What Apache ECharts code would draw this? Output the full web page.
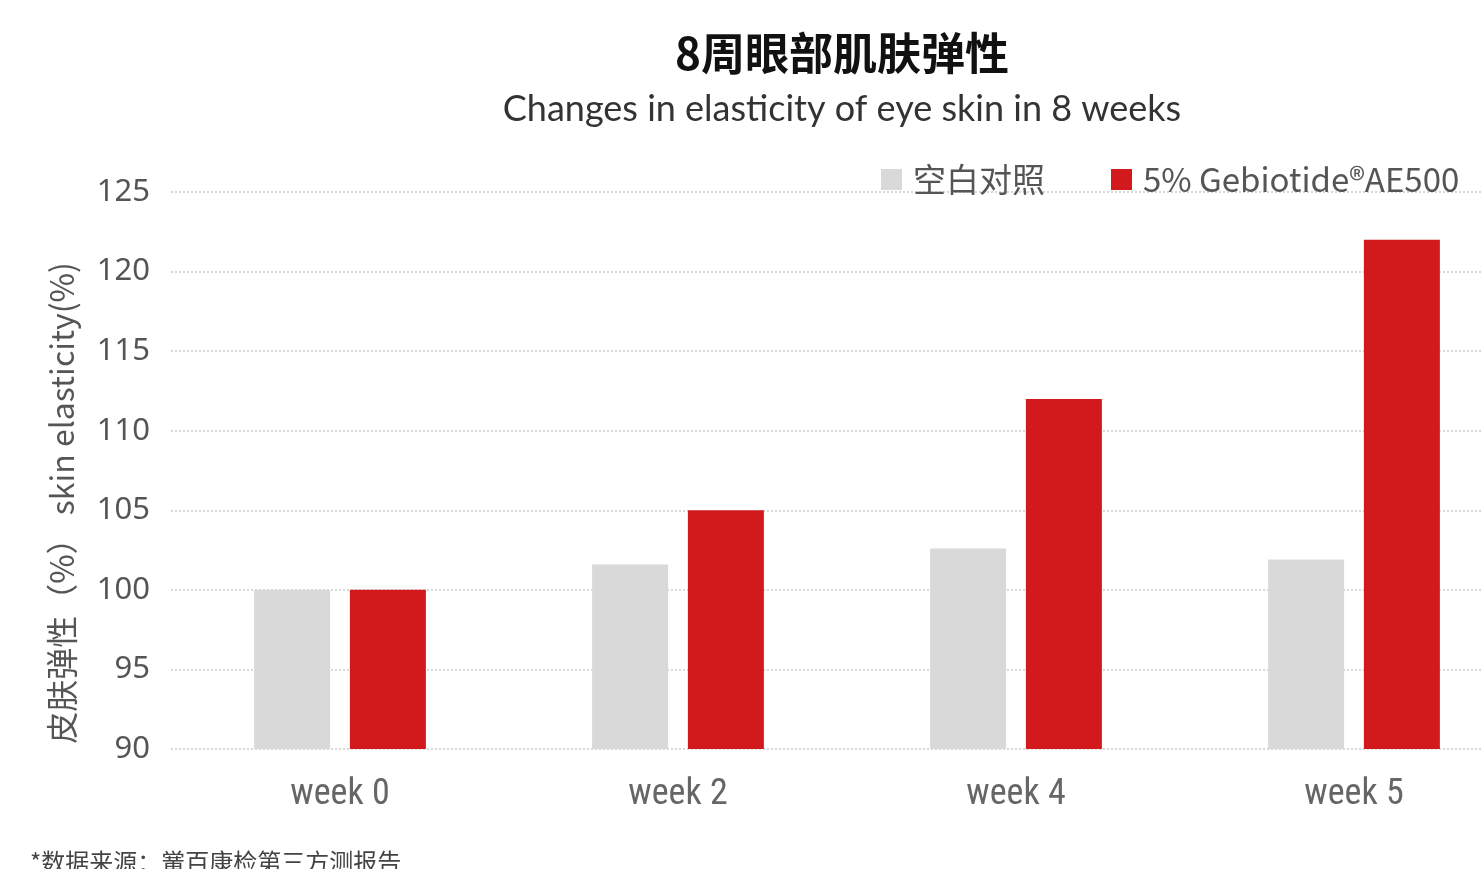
<!DOCTYPE html>
<html>
<head>
<meta charset="utf-8">
<script src="https://cdn.jsdelivr.net/npm/echarts@6/dist/echarts.min.js"></script>
<style>
  html, body { margin: 0; padding: 0; background: #fff; overflow: hidden; }
  /* the source picture is cropped on the right, so the canvas runs past the window */
  #chart { width: 1540px; height: 869px; }
</style>
</head>
<body>
<div id="chart"></div>
<script>
// data
const weeks = ['week 0', 'week 2', 'week 4', 'week 5'];
const blankControl = [100, 101.6, 102.6, 101.9];
const gebiotide = [100, 105, 112, 122];
const seriesNames = ['空白对照', '5% Gebiotide®AE500'];

const cjk = '"Noto Sans CJK SC", "Noto Sans", sans-serif';

const myChart = echarts.init(document.getElementById('chart'));
const option = {
  backgroundColor: '#fff',
  animation: false,
  title: [
    {
      text: '8周眼部肌肤弹性',
      left: 837,
      top: 26,
      textAlign: 'center',
      textStyle: { fontFamily: cjk, fontSize: 44, fontWeight: 'bold', color: '#111' }
    },
    {
      text: 'Changes in elasticity of eye skin in 8 weeks',
      left: 837,
      top: 86,
      textAlign: 'center',
      textStyle: { fontFamily: 'Lato, sans-serif', fontSize: 36, fontWeight: 'normal', color: '#333' }
    }
  ],
  legend: {
    left: 876,
    top: 158,
    itemWidth: 21,
    itemHeight: 21,
    itemGap: 66,
    icon: 'rect',
    data: seriesNames,
    textStyle: { fontFamily: cjk, fontSize: 33, color: '#555', padding: [0, 0, 0, 6] }
  },
  grid: {
    left: 171,
    width: 1352,
    top: 192,
    height: 557
  },
  xAxis: {
    type: 'category',
    data: weeks,
    axisLine: { show: false },
    axisTick: { show: false },
    axisLabel: {
      margin: 28,
      fontFamily: '"Liberation Sans Narrow", "Roboto Condensed", "Roboto", sans-serif',
      fontSize: 36,
      color: '#666'
    }
  },
  yAxis: {
    type: 'value',
    min: 90,
    max: 125,
    interval: 5,
    axisLine: { show: false },
    axisTick: { show: false },
    splitLine: { lineStyle: { type: 'dotted', color: '#d8d8d8', width: 2 } },
    axisLabel: { margin: 21, fontFamily: '"Noto Sans", sans-serif', fontSize: 31, color: '#555' }
  },
  graphic: [
    {
      type: 'text',
      x: 62,
      y: 503,
      rotation: Math.PI / 2,
      style: {
        text: '皮肤弹性（%） skin elasticity(%)',
        font: '32px "Noto Sans CJK SC", "Noto Sans", sans-serif',
        fill: '#555',
        textAlign: 'center',
        textVerticalAlign: 'middle'
      }
    },
    {
      type: 'text',
      x: 30,
      y: 862,
      style: {
        text: '*数据来源：黉百康检第三方测报告',
        font: '24px "Noto Sans CJK SC", sans-serif',
        fill: '#444',
        textVerticalAlign: 'middle'
      }
    }
  ],
  series: [
    {
      name: seriesNames[0],
      type: 'bar',
      data: blankControl,
      barWidth: 76,
      barGap: '26%',
      itemStyle: { color: '#d9d9d9' }
    },
    {
      name: seriesNames[1],
      type: 'bar',
      data: gebiotide,
      barWidth: 76,
      itemStyle: { color: '#d21a1c' }
    }
  ]
};
myChart.setOption(option);
</script>
</body>
</html>
